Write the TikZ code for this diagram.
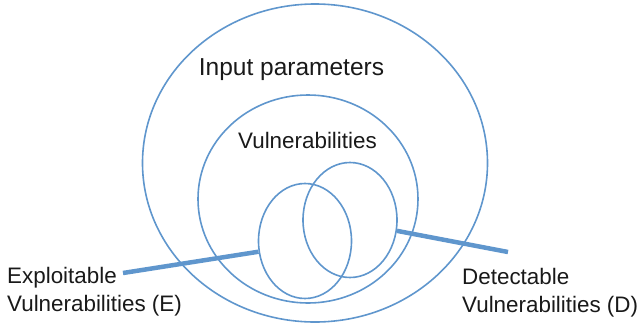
\documentclass[tikz,border=0pt]{standalone}
\usepackage{fontspec}
\setmainfont{Liberation Sans}
\usetikzlibrary{shapes.geometric}
\definecolor{venn}{RGB}{95,150,205}
\begin{document}
\begin{tikzpicture}[x=1pt,y=-1pt,
  setshape/.style={draw=venn, line width=1.6pt, ellipse, inner sep=0pt},
  leadline/.style={draw=venn, line width=4.5pt},
  lbl/.style={font=\fontsize{22.4}{28}\selectfont, align=left, inner sep=0pt, text=black!90}]
\useasboundingbox (0,0) rectangle (638,327);
\node[setshape, minimum width=345pt, minimum height=318pt] (P) at (315,163) {};
\node[setshape, minimum width=220pt, minimum height=208pt] (V) at (308,199) {};
\node[setshape, minimum width=93pt, minimum height=115pt] (E) at (305,241) {};
\node[setshape, minimum width=94pt, minimum height=115pt] (D) at (350,220) {};
\node[lbl, font=\fontsize{24.5}{28}\selectfont, anchor=base] (tP) at (291.5,75) {Input parameters};
\node[lbl, anchor=base] (tV) at (307.5,148) {Vulnerabilities};
\node[lbl, anchor=base west] (tE) at (7,311) {Exploitable\\Vulnerabilities (E)};
\node[lbl, anchor=base west] (tD) at (462,312) {Detectable\\Vulnerabilities (D)};
\coordinate (eE) at (123,273);
\coordinate (eD) at (508,252);
\draw[leadline] (eE) -- (E.193);
\draw[leadline] (D.347) -- (eD);
\end{tikzpicture}
\end{document}
